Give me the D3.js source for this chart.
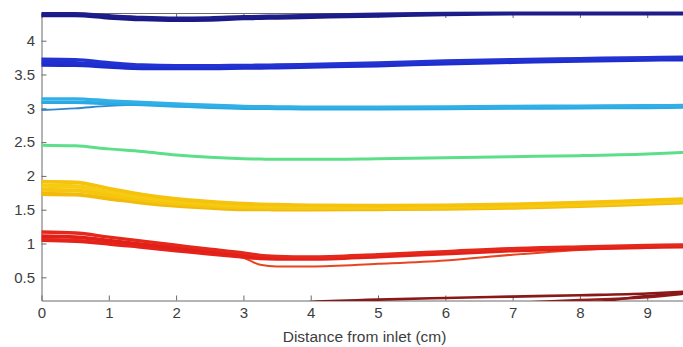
<!DOCTYPE html>
<html>
<head>
<meta charset="utf-8">
<script src="https://cdn.jsdelivr.net/npm/d3@7"></script>
<style>
    body { margin: 0; background: #fff; }
    svg { display: block; }
    .axis text { font-family: "Liberation Sans", Arial, sans-serif; font-size: 15px; fill: #3d3d3d; }
    .axis path, .axis line { stroke: #6a6a6a; }
    .axis-label { font-family: "Liberation Sans", Arial, sans-serif; font-size: 15.5px; fill: #3d3d3d; }
    .line { fill: none; stroke-linejoin: round; stroke-linecap: round; }
</style>
</head>
<body>
<div id="plot"></div>
<script>
// Data (distance in cm, value per trace)
const distance = [0, 0.5, 1, 1.5, 2, 2.5, 3, 3.25, 3.5, 4, 5, 6, 7, 8, 9, 9.6];

const xTicks = [0, 1, 2, 3, 4, 5, 6, 7, 8, 9];
const yTicks = [0.5, 1, 1.5, 2, 2.5, 3, 3.5, 4];

const navyA = [4.40, 4.40, 4.37, 4.345, 4.335, 4.34, 4.355, 4.36, 4.365, 4.375, 4.395, 4.405, 4.41, 4.41, 4.41, 4.41];
const navyB = [4.37, 4.37, 4.335, 4.31, 4.30, 4.305, 4.325, 4.33, 4.335, 4.345, 4.365, 4.385, 4.395, 4.395, 4.395, 4.395];

const blueA = [3.725, 3.72, 3.675, 3.64, 3.63, 3.63, 3.635, 3.637, 3.64, 3.65, 3.67, 3.70, 3.72, 3.735, 3.75, 3.755];
const blueB = [3.68, 3.675, 3.64, 3.615, 3.61, 3.61, 3.615, 3.617, 3.62, 3.63, 3.65, 3.68, 3.70, 3.715, 3.73, 3.735];
const blueC = [3.64, 3.635, 3.61, 3.59, 3.59, 3.59, 3.595, 3.597, 3.60, 3.61, 3.63, 3.66, 3.68, 3.70, 3.715, 3.72];

const cyanA = [3.14, 3.14, 3.11, 3.085, 3.065, 3.045, 3.028, 3.024, 3.022, 3.017, 3.017, 3.022, 3.027, 3.032, 3.037, 3.042];
const cyanB = [3.09, 3.09, 3.07, 3.055, 3.035, 3.015, 3.002, 3.0, 2.998, 2.993, 2.993, 2.998, 3.003, 3.008, 3.013, 3.018];
const cyanLow = [2.975, 3.0, 3.035, 3.05, 3.04, 3.025, 3.01, 3.007, 3.005, 3.0, 3.0, 3.005, 3.01, 3.015, 3.02, 3.025];

const green = [2.455, 2.445, 2.40, 2.36, 2.31, 2.275, 2.255, 2.25, 2.245, 2.245, 2.255, 2.27, 2.285, 2.30, 2.325, 2.35];

const yellowA = [1.915, 1.905, 1.815, 1.725, 1.66, 1.62, 1.59, 1.58, 1.575, 1.565, 1.56, 1.565, 1.58, 1.605, 1.64, 1.66];
const yellowB = [1.855, 1.845, 1.765, 1.685, 1.627, 1.59, 1.563, 1.557, 1.552, 1.545, 1.543, 1.548, 1.563, 1.588, 1.623, 1.643];
const yellowC = [1.795, 1.785, 1.715, 1.645, 1.593, 1.56, 1.537, 1.533, 1.528, 1.525, 1.527, 1.532, 1.547, 1.572, 1.607, 1.627];
const yellowD = [1.735, 1.725, 1.665, 1.605, 1.56, 1.53, 1.51, 1.51, 1.505, 1.505, 1.51, 1.515, 1.53, 1.555, 1.59, 1.61];

const redA = [1.17, 1.155, 1.095, 1.035, 0.975, 0.915, 0.86, 0.825, 0.81, 0.80, 0.835, 0.88, 0.925, 0.95, 0.97, 0.98];
const redB = [1.11, 1.095, 1.045, 0.99, 0.935, 0.88, 0.83, 0.80, 0.79, 0.785, 0.82, 0.865, 0.91, 0.935, 0.955, 0.965];
const redC = [1.05, 1.035, 0.995, 0.945, 0.895, 0.845, 0.80, 0.78, 0.772, 0.77, 0.805, 0.85, 0.895, 0.925, 0.945, 0.955];
const redLow = [1.07, 1.055, 1.01, 0.96, 0.91, 0.86, 0.79, 0.685, 0.66, 0.66, 0.70, 0.75, 0.835, 0.905, 0.945, 0.955];

const darkA = [0.10, 0.10, 0.10, 0.10, 0.10, 0.10, 0.10, 0.105, 0.11, 0.135, 0.17, 0.195, 0.215, 0.235, 0.26, 0.29];
const darkB = [0.05, 0.05, 0.05, 0.05, 0.05, 0.05, 0.05, 0.05, 0.05, 0.05, 0.06, 0.08, 0.12, 0.165, 0.205, 0.265];
const darkC = [0.05, 0.05, 0.05, 0.05, 0.05, 0.05, 0.05, 0.05, 0.05, 0.05, 0.05, 0.06, 0.08, 0.11, 0.225, 0.26];

const traces = [
    { values: darkA, color: "#8a1818", width: 2.6 },
    { values: darkB, color: "#941c1c", width: 2.4 },
    { values: darkC, color: "#8a1818", width: 2.4 },
    { values: redLow, color: "#e8451f", width: 2 },
    { values: redC, color: "#e5231b", width: 3.6 },
    { values: redB, color: "#e21f18", width: 3.6 },
    { values: redA, color: "#e5281c", width: 3.4 },
    { values: yellowD, color: "#f2bb0c", width: 4.2 },
    { values: yellowC, color: "#f5c50f", width: 4.2 },
    { values: yellowB, color: "#f7cb12", width: 4.2 },
    { values: yellowA, color: "#f5c20d", width: 3.6 },
    { values: green, color: "#5ddf8a", width: 3 },
    { values: cyanLow, color: "#2f86cf", width: 1.8 },
    { values: cyanB, color: "#2ba9e3", width: 3.4 },
    { values: cyanA, color: "#30b0e6", width: 3.4 },
    { values: blueC, color: "#1d2ccc", width: 3.4 },
    { values: blueB, color: "#1f2fd0", width: 3.4 },
    { values: blueA, color: "#2233d2", width: 3.4 },
    { values: navyB, color: "#1b1a85", width: 3.2 },
    { values: navyA, color: "#1e1d8c", width: 3.2 }
];

const W = 683, H = 347;
const plotLeft = 41.5, plotRight = 687.6, plotTop = 13, plotBottom = 300.5;

const svg = d3.select('#plot')
    .append('svg')
    .attr('width', W)
    .attr('height', H);

const x = d3.scaleLinear().domain([0, 9.6]).range([plotLeft, plotRight]);
const y = d3.scaleLinear().domain([0.157, 4.41]).range([plotBottom, plotTop]);

// Axes (MATLAB style, ticks pointing inward, box on)
svg.append('g')
    .attr('class', 'axis')
    .attr('transform', `translate(0,${plotBottom})`)
    .call(d3.axisBottom(x).tickValues(xTicks).tickFormat(d3.format('d'))
        .tickSizeInner(-5).tickSizeOuter(0).tickPadding(7));

svg.append('g')
    .attr('class', 'axis')
    .attr('transform', `translate(0,${plotTop})`)
    .call(d3.axisTop(x).tickValues(xTicks).tickFormat('')
        .tickSizeInner(-5).tickSizeOuter(0));

svg.append('g')
    .attr('class', 'axis')
    .attr('transform', `translate(${plotLeft},0)`)
    .call(d3.axisLeft(y).tickValues(yTicks).tickFormat(d => d)
        .tickSizeInner(-5).tickSizeOuter(0).tickPadding(6.5));

svg.append('text')
    .attr('class', 'axis-label')
    .attr('x', (plotLeft + plotRight) / 2)
    .attr('y', 342)
    .attr('text-anchor', 'middle')
    .text('Distance from inlet (cm)');

// Clip the traces to the plot box
svg.append('clipPath')
    .attr('id', 'clip')
    .append('rect')
    .attr('x', plotLeft)
    .attr('y', plotTop - 3)
    .attr('width', plotRight - plotLeft)
    .attr('height', plotBottom - plotTop + 3.5);

const line = d3.line()
    .x((d, i) => x(distance[i]))
    .y(d => y(d))
    .curve(d3.curveMonotoneX);

svg.append('g')
    .attr('clip-path', 'url(#clip)')
    .selectAll('path')
    .data(traces)
    .join('path')
    .attr('class', 'line')
    .attr('stroke', d => d.color)
    .attr('stroke-width', d => d.width)
    .attr('d', d => line(d.values));
</script>
</body>
</html>
